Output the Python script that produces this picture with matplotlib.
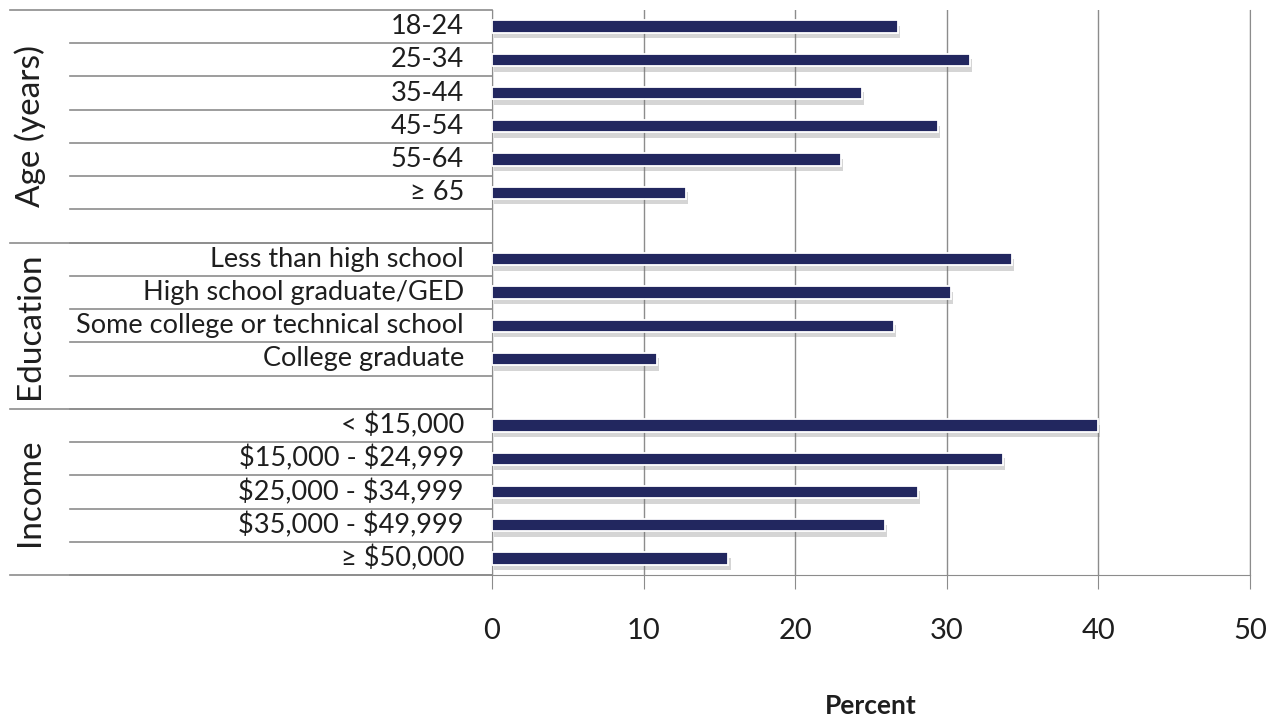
import matplotlib
matplotlib.use("Agg")
import matplotlib.pyplot as plt
import matplotlib.patheffects as pe
import matplotlib.transforms as mtransforms

# data
age_labels = ["18-24", "25-34", "35-44", "45-54", "55-64", "\u2265 65"]
age_vals = [26.8, 31.5, 24.4, 29.4, 23.0, 12.8]
edu_labels = ["Less than high school", "High school graduate/GED",
              "Some college or technical school", "College graduate"]
edu_vals = [34.3, 30.3, 26.5, 10.9]
inc_labels = ["< $15,000", "$15,000 - $24,999", "$25,000 - $34,999",
              "$35,000 - $49,999", "\u2265 $50,000"]
inc_vals = [40.0, 33.7, 28.1, 25.9, 15.6]
groups = ["Age (years)", "Education", "Income"]
xticks = [0, 10, 20, 30, 40, 50]

plt.rcParams["font.family"] = ["Lato", "DejaVu Sans"]
plt.rcParams["text.parse_math"] = False

# slot layout: each group followed by an empty slot (except the last)
labels, vals, pos = [], [], []
group_spans = []
slot = 0
for g, (lab, v) in enumerate([(age_labels, age_vals), (edu_labels, edu_vals), (inc_labels, inc_vals)]):
    start = slot
    for l, x in zip(lab, v):
        labels.append(l)
        vals.append(x)
        pos.append(slot)
        slot += 1
    if g < 2:
        slot += 1
    group_spans.append((start - 0.5, slot - 0.5))
nslots = slot

fig = plt.figure(figsize=(12.78, 7.21), dpi=100)
ax = fig.add_axes([492 / 1278, 1 - 575 / 721, 758 / 1278, 565 / 721])

navy = "#22275f"
grid_c = "#8c8c8c"
txt_c = "#1e1e1e"
ax.barh(pos, vals, height=0.37, color=navy, edgecolor="white", linewidth=1.3,
        zorder=3,
        path_effects=[pe.SimplePatchShadow(offset=(1.5, -4), shadow_rgbFace="#777777", alpha=0.3),
                      pe.Normal()])

ax.set_xlim(0, 50)
ax.set_ylim(nslots - 0.5, -0.5)
ax.set_xticks(xticks)
ax.set_xticklabels([str(t) for t in xticks], fontsize=21, color=txt_c)
ax.tick_params(axis="x", length=10, color=grid_c, pad=21)
ax.set_yticks([])
ax.grid(axis="x", color=grid_c, linewidth=1, zorder=0)
ax.spines["top"].set_visible(False)
for s in ["left", "right", "bottom"]:
    ax.spines[s].set_color(grid_c)

# axis title sits near the bottom edge
fig.text((492 + 1250) / 2 / 1278, 1 - 706 / 721, "Percent", ha="center", va="center",
         fontsize=19, fontweight="bold", color=txt_c)

trans = mtransforms.blended_transform_factory(ax.transAxes, ax.transData)
x_inner = (70 - 492) / 758
x_outer = (10 - 492) / 758

for l, p in zip(labels, pos):
    ax.text(-0.037, p, l, transform=trans, ha="right", va="center", fontsize=19.5, color=txt_c)

# row separators inside each group, group separators spanning the full width
for g, (a, b) in enumerate(group_spans):
    ax.plot([x_outer, 0], [a, a], transform=trans, color=grid_c, lw=1.2, clip_on=False)
    for k in range(int(a + 1), int(b + 0.5)):
        ax.plot([x_inner, 0], [k + 0.5, k + 0.5], transform=trans, color=grid_c, lw=1.2, clip_on=False)
    if g == len(group_spans) - 1:
        ax.plot([x_outer, 0], [b, b], transform=trans, color=grid_c, lw=1.2, clip_on=False)
    ax.text((30 - 492) / 758, (a + b) / 2, groups[g], transform=trans, rotation=90,
            ha="center", va="center", fontsize=24, color=txt_c)

fig.savefig("out.png", dpi=100)
